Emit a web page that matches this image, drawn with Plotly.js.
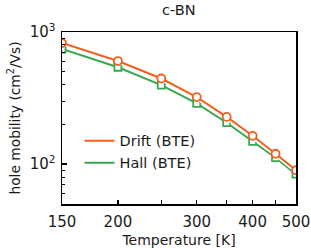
<!DOCTYPE html>
<html><head><meta charset="utf-8">
<script src="https://cdn.plot.ly/plotly-3.0.1.min.js"></script>
<style>html,body{margin:0;padding:0;background:#fff;}#chart{width:311px;height:248px;}</style>
</head><body><div id="chart"></div>
<script>
const temperature = [150, 200, 250, 300, 350, 400, 450, 500];
const driftMobility = [826, 603, 445, 322, 228, 164, 120, 90];
const hallMobility = [743, 541, 396, 288, 206, 149, 112, 84];
const xTickVals = [150, 200, 250, 300, 350, 400, 450, 500];
const xTickText = ['150', '200', '', '300', '', '400', '', '500'];
const yTickVals = [100, 1000];
const yTickText = ['10<sup>2</sup>', '10<sup>3</sup>'];
const yMinorVals = [50, 60, 70, 80, 90, 200, 300, 400, 500, 600, 700, 800, 900];

const orange = '#f0601e';
const green = '#38a84f';
const font = 'DejaVu Sans, sans-serif';
const txt = '#1a1a1a';

function shadow(y) {
  return {x: temperature, y: y, mode: 'lines', line: {color: 'white', width: 5}, showlegend: false, hoverinfo: 'skip'};
}
const traces = [
  shadow(hallMobility),
  {x: temperature, y: hallMobility, mode: 'lines+markers', showlegend: false,
   line: {color: green, width: 2},
   marker: {symbol: 'square', size: 7, color: 'white', line: {color: green, width: 1.8}}},
  shadow(driftMobility),
  {x: temperature, y: driftMobility, mode: 'lines+markers', showlegend: false,
   line: {color: orange, width: 2},
   marker: {symbol: 'circle', size: 8, color: 'white', line: {color: orange, width: 1.8}}},
  {x: [null], y: [null], mode: 'lines', name: 'Drift (BTE)', line: {color: orange, width: 2}},
  {x: [null], y: [null], mode: 'lines', name: 'Hall (BTE)', line: {color: green, width: 2}}
];

const layout = {
  width: 311, height: 248,
  margin: {l: 62, r: 15, t: 32, b: 44},
  paper_bgcolor: 'white', plot_bgcolor: 'white',
  font: {family: font, size: 14, color: txt},
  title: {text: 'c-BN', x: 0.575, xanchor: 'center', y: 0.98, yanchor: 'top', font: {family: font, size: 14.5, color: txt}},
  showlegend: true,
  legend: {x: 0.075, y: 0.46, xanchor: 'left', yanchor: 'top', bgcolor: 'rgba(0,0,0,0)', font: {family: font, size: 14.5, color: txt}, itemwidth: 30, tracegroupgap: 0},
  xaxis: {
    type: 'log', range: [Math.log10(150), Math.log10(500)],
    tickmode: 'array', tickvals: xTickVals, ticktext: xTickText,
    ticks: 'inside', ticklen: 4, tickwidth: 1.5, tickcolor: '#000',
    showline: true, linecolor: '#000', linewidth: 1.5, mirror: true,
    showgrid: false, zeroline: false, ticklabelstandoff: 3,
    tickfont: {family: font, size: 15, color: txt},
    title: {text: 'Temperature [K]', font: {family: font, size: 14, color: txt}, standoff: 8}
  },
  yaxis: {
    type: 'log', range: [Math.log10(50), 3],
    tickmode: 'array', tickvals: yTickVals, ticktext: yTickText,
    ticks: 'inside', ticklen: 5, tickwidth: 1.5, tickcolor: '#000',
    minor: {tickmode: 'array', tickvals: yMinorVals, ticks: 'inside', ticklen: 3, tickwidth: 1, tickcolor: '#000', showgrid: false},
    showline: true, linecolor: '#000', linewidth: 1.5, mirror: true,
    showgrid: false, zeroline: false, ticklabelstandoff: 2,
    tickfont: {family: font, size: 15, color: txt},
    title: {text: 'hole mobility (cm<sup>2</sup>/Vs)', font: {family: font, size: 13.8, color: txt}, standoff: 6}
  }
};
Plotly.newPlot('chart', traces, layout, {displayModeBar: false, staticPlot: true});
</script></body></html>
